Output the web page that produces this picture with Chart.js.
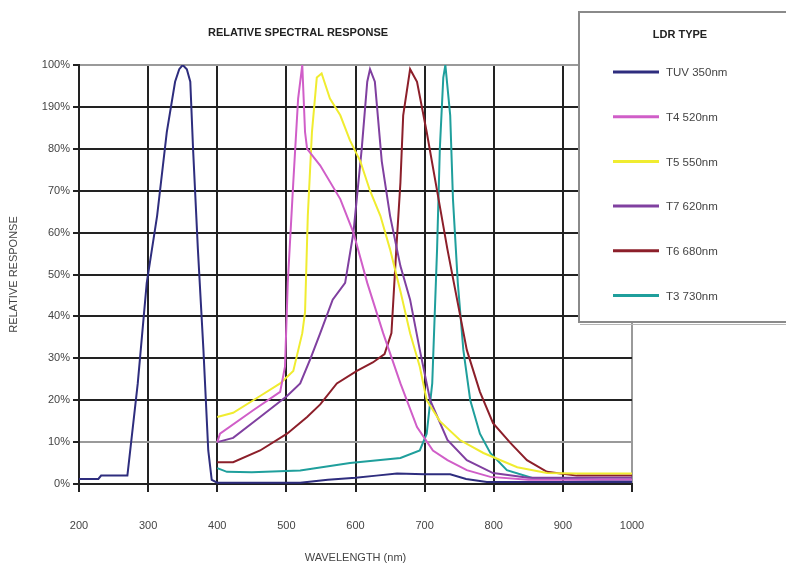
<!DOCTYPE html>
<html>
<head>
<meta charset="utf-8">
<script src="https://cdn.jsdelivr.net/npm/chart.js@4/dist/chart.umd.min.js"></script>
<style>
  html, body { margin: 0; padding: 0; background: #fff; }
  #wrap { width: 786px; height: 567px; }
</style>
</head>
<body>
<div id="wrap"><canvas id="myChart" width="786" height="567"></canvas></div>
<script>
// titulos y etiquetas
const chartTitle = 'RELATIVE SPECTRAL RESPONSE';
const legendTitle = 'LDR TYPE';
const xTitle = 'WAVELENGTH (nm)';
const yTitle = 'RELATIVE RESPONSE';
const yTickLabels = ['0%', '10%', '20%', '30%', '40%', '50%', '60%', '70%', '80%', '190%', '100%'];

const seriesNames = ['TUV 350nm', 'T4 520nm', 'T5 550nm', 'T7 620nm', 'T6 680nm', 'T3 730nm'];
const seriesColors = ['#2e2d7e', '#d05ec8', '#f0ec30', '#8040a0', '#8c1f2a', '#1f9f9c'];

// curvas (longitud de onda nm / respuesta %)
const tuvX = [200, 228, 232, 270, 285, 298, 313, 327, 339, 345, 350, 356, 361, 365, 372, 380, 387, 392, 400, 450, 520, 560, 600, 630, 660, 700, 737, 760, 790, 850, 1000];
const tuvY = [1.2, 1.2, 2, 2, 24, 48, 64, 84, 96, 99, 100, 99, 96, 80, 56, 32, 8, 1, 0.3, 0.3, 0.3, 1, 1.5, 2, 2.5, 2.3, 2.3, 1.2, 0.5, 0.5, 0.5];

const t4X = [400, 404, 452, 491, 498, 502, 510, 517, 523, 527, 530, 549, 578, 597, 617, 640, 665, 689, 712, 733, 761, 795, 850, 1000];
const t4Y = [10, 12, 17.6, 22, 28, 48, 72, 92, 100, 84, 80, 76, 68, 60, 48, 36, 24, 13.6, 8, 5.7, 3.3, 1.7, 1, 1];

const t5X = [400, 423, 462, 491, 510, 523, 527, 531, 537, 544, 551, 563, 578, 592, 607, 621, 636, 650, 665, 679, 693, 703, 722, 751, 785, 834, 877, 920, 1000];
const t5Y = [16, 17, 21, 24, 27, 36, 41, 64, 84, 97, 98, 92, 88, 82, 77, 70, 64, 56, 46, 36, 28, 20, 15, 10.5, 7.4, 4, 2.6, 2.5, 2.5];

const t7X = [400, 423, 462, 501, 520, 535, 549, 567, 585, 597, 609, 617, 621, 628, 638, 650, 665, 679, 693, 708, 733, 761, 799, 850, 1000];
const t7Y = [10, 11, 16, 21, 24, 30, 36, 44, 48, 60, 80, 96, 99, 96, 77, 64, 52, 44, 32, 20, 10.5, 5.7, 2.6, 1.5, 1.5];

const t6X = [400, 423, 462, 501, 530, 549, 573, 602, 625, 642, 652, 659, 665, 669, 679, 689, 703, 718, 733, 747, 761, 780, 799, 824, 848, 877, 920, 1000];
const t6Y = [5.2, 5.2, 8, 12, 16, 19, 24, 27, 29, 31, 36, 56, 72, 88, 99, 96, 84, 70, 56, 44, 32, 22, 14.5, 9.8, 5.7, 2.9, 2, 2];

const t3X = [400, 414, 450, 520, 592, 665, 693, 703, 711, 718, 722, 727, 730, 737, 741, 748, 756, 766, 780, 795, 819, 857, 1000];
const t3Y = [3.8, 2.9, 2.8, 3.2, 5, 6.2, 8, 12, 24, 56, 80, 97, 100, 88, 68, 48, 32, 20, 12, 7.4, 3.3, 1.4, 0.8];

const seriesX = [tuvX, t4X, t5X, t7X, t6X, t3X];
const seriesY = [tuvY, t4Y, t5Y, t7Y, t6Y, t3Y];

const FONT = '"Liberation Sans", Arial, sans-serif';
const GRID = '#222';
const GRID_LIGHT = '#9a9a9a';

// titulo y leyenda dibujados encima del grafico
const overlayPlugin = {
  id: 'overlay',
  afterDraw(chart) {
    const ctx = chart.ctx;
    ctx.save();
    ctx.font = 'bold 11px ' + FONT;
    ctx.fillStyle = '#222';
    ctx.textAlign = 'center';
    ctx.textBaseline = 'middle';
    ctx.fillText(chartTitle, 298, 33);

    // caja de la leyenda
    ctx.fillStyle = '#fff';
    ctx.fillRect(578, 11, 210, 312);
    ctx.strokeStyle = '#8a8a8a';
    ctx.lineWidth = 2;
    ctx.strokeRect(579, 12, 212, 310);
    ctx.strokeStyle = '#b5b5b5';
    ctx.lineWidth = 1;
    ctx.beginPath();
    ctx.moveTo(580, 324.5);
    ctx.lineTo(786, 324.5);
    ctx.stroke();

    ctx.fillStyle = '#222';
    ctx.font = 'bold 11px ' + FONT;
    ctx.fillText(legendTitle, 680, 35);

    ctx.font = '11.5px ' + FONT;
    ctx.textAlign = 'left';
    chart.data.datasets.forEach((ds, i) => {
      const y = 72 + i * 44.7;
      ctx.strokeStyle = ds.borderColor;
      ctx.lineWidth = 3;
      ctx.beginPath();
      ctx.moveTo(613, y);
      ctx.lineTo(659, y);
      ctx.stroke();
      ctx.fillStyle = '#444';
      ctx.fillText(ds.label, 666, y + 1);
    });
    ctx.restore();
  }
};

const ctx = document.getElementById('myChart').getContext('2d');

new Chart(ctx, {
  type: 'line',
  data: {
    datasets: seriesNames.map((name, i) => ({
      label: name,
      data: seriesX[i].map((x, j) => ({ x: x, y: seriesY[i][j] })),
      borderColor: seriesColors[i],
      backgroundColor: seriesColors[i],
      borderWidth: 2,
      pointRadius: 0,
      tension: 0,
      fill: false
    }))
  },
  options: {
    responsive: false,
    animation: false,
    layout: { padding: { top: 65, right: 154, left: 0, bottom: 0 } },
    plugins: {
      legend: { display: false },
      title: { display: false },
      tooltip: { enabled: false }
    },
    scales: {
      x: {
        type: 'linear',
        min: 200,
        max: 1000,
        afterFit: (s) => { s.height = 83; },
        ticks: {
          stepSize: 100,
          padding: 27,
          color: '#444',
          font: { family: FONT, size: 11 },
          maxRotation: 0,
          callback: (v) => String(v)
        },
        grid: {
          color: (c) => (c.tick && c.tick.value === 1000 ? GRID_LIGHT : GRID),
          lineWidth: 2,
          tickLength: 8,
          tickColor: GRID
        },
        border: { color: GRID, width: 2 },
        title: {
          display: true,
          text: xTitle,
          color: '#444',
          font: { family: FONT, size: 11 },
          padding: { top: 0, bottom: 2 }
        }
      },
      y: {
        min: 0,
        max: 100,
        afterFit: (s) => { s.width = 79; },
        ticks: {
          stepSize: 10,
          padding: 3,
          color: '#444',
          font: { family: FONT, size: 11 },
          callback: (v) => yTickLabels[Math.round(v / 10)]
        },
        grid: {
          color: (c) => (c.tick && (c.tick.value === 10 || c.tick.value === 100) ? GRID_LIGHT : GRID),
          lineWidth: 2,
          tickLength: 6,
          tickColor: GRID
        },
        border: { color: GRID, width: 2 },
        title: {
          display: true,
          text: yTitle,
          color: '#444',
          font: { family: FONT, size: 11 },
          padding: { top: 7, bottom: 0 }
        }
      }
    }
  },
  plugins: [overlayPlugin]
});
</script>
</body>
</html>
